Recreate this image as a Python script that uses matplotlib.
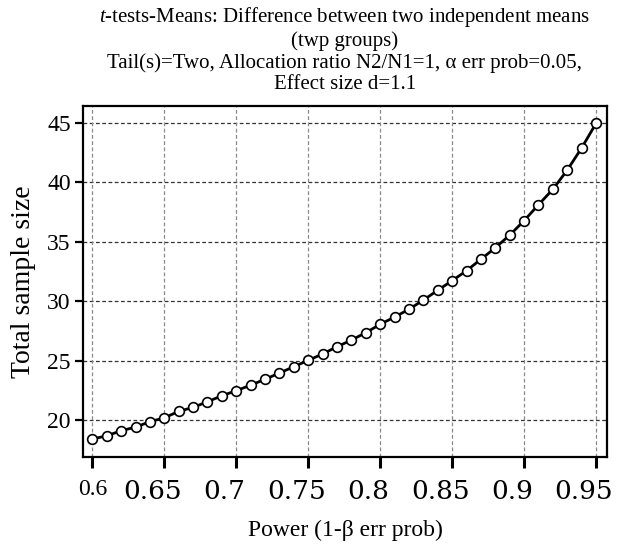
import matplotlib
matplotlib.use("Agg")
import matplotlib.pyplot as plt
import matplotlib.transforms as mtransforms

# power values (x) and total sample size
power = [0.60, 0.61, 0.62, 0.63, 0.64, 0.65, 0.66, 0.67, 0.68, 0.69,
         0.70, 0.71, 0.72, 0.73, 0.74, 0.75, 0.76, 0.77, 0.78, 0.79,
         0.80, 0.81, 0.82, 0.83, 0.84, 0.85, 0.86, 0.87, 0.88, 0.89,
         0.90, 0.91, 0.92, 0.93, 0.94, 0.95]
total_n = [18.40, 18.68, 19.10, 19.41, 19.86, 20.19, 20.73, 21.07, 21.54, 22.05,
           22.47, 22.94, 23.43, 23.96, 24.49, 25.03, 25.56, 26.17, 26.73, 27.35,
           28.06, 28.67, 29.32, 30.10, 30.92, 31.73, 32.57, 33.53, 34.50, 35.56,
           36.78, 38.12, 39.42, 41.04, 42.90, 44.97]

x_ticks = [0.6, 0.65, 0.7, 0.75, 0.8, 0.85, 0.9, 0.95]
x_tick_labels = ["0.6", "0.65", "0.7", "0.75", "0.8", "0.85", "0.9", "0.95"]
y_ticks = [20, 25, 30, 35, 40, 45]

title_lines = ["$\\it{t}$-tests-Means: Difference between two independent means",
               "(twp groups)",
               "Tail(s)=Two, Allocation ratio N2/N1=1, \u03b1 err prob=0.05,",
               "Effect size d=1.1"]

plt.rcParams["font.family"] = ["Liberation Serif", "DejaVu Serif"]
plt.rcParams["mathtext.fontset"] = "custom"
plt.rcParams["mathtext.it"] = "Liberation Serif:italic"
plt.rcParams["mathtext.rm"] = "Liberation Serif"

fig = plt.figure(figsize=(6.23, 5.44), dpi=100)
ax = fig.add_axes([0.1337, 0.1599, 0.9738 - 0.1337, 0.8051 - 0.1599])

# grid: horizontal darker, vertical lighter
for y in y_ticks:
    ax.axhline(y, color="#333333", lw=0.9, ls=(0, (3, 2)), zorder=1)
for x in x_ticks:
    ax.axvline(x, color="#8a8a8a", lw=0.9, ls=(0, (3, 2)), zorder=1)

ax.plot(power, total_n, color="black", lw=2.0, marker="o", markersize=7,
        markerfacecolor="white", markeredgecolor="black", markeredgewidth=1.2,
        zorder=3)

ax.set_xlim(0.5937, 0.9574)
ax.set_ylim(16.89, 46.43)

ax.set_yticks(y_ticks)
ax.set_yticklabels([str(v) for v in y_ticks], fontsize=17)
ax.set_xticks(x_ticks)
ax.set_xticklabels(x_tick_labels)

for sp in ax.spines.values():
    sp.set_linewidth(1.6)

ax.tick_params(axis="y", direction="out", length=6, width=1.6, pad=3)
ax.tick_params(axis="x", direction="out", length=8, width=2.2, pad=8)

# first label in plain serif, the rest in a wider face shifted left
shift = mtransforms.ScaledTranslation(-12 / 100, 0, fig.dpi_scale_trans)
for i, lab in enumerate(ax.get_xticklabels()):
    if i == 0:
        lab.set_fontsize(17)
        lab.set_family("Liberation Serif")
    else:
        lab.set_fontsize(19)
        lab.set_family("DejaVu Serif")
        lab.set_transform(lab.get_transform() + shift)

ax.set_ylabel("Total sample size", fontsize=20, labelpad=8)
ax.set_xlabel("Power (1-\u03b2 err prob)", fontsize=17, labelpad=11)

ax.set_title("\n".join(title_lines), fontsize=15, linespacing=1.15, pad=12)

fig.savefig("out.png", dpi=100)
